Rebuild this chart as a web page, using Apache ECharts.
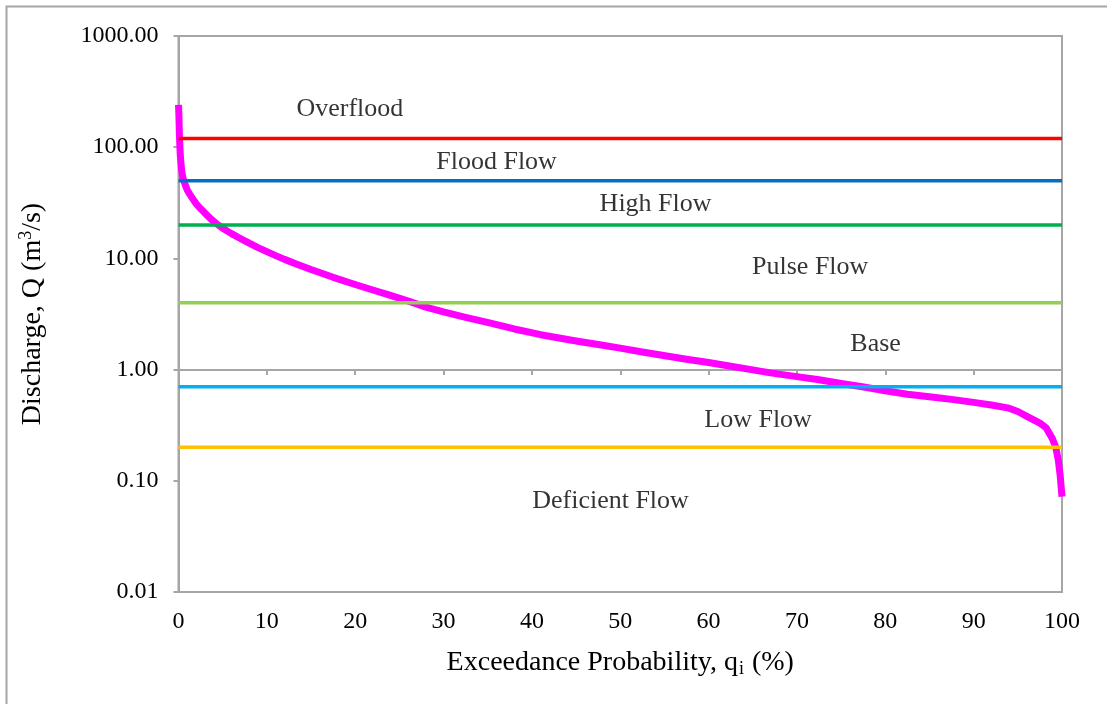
<!DOCTYPE html>
<html>
<head>
<meta charset="utf-8">
<title>Flow duration curve</title>
<script src="https://cdn.jsdelivr.net/npm/echarts@6/dist/echarts.min.js"></script>
<style>
  html, body { margin: 0; padding: 0; background: #fff; }
  #chart { width: 1107px; height: 704px; }
</style>
</head>
<body>
<div id="chart"></div>
<script>
// Exceedance probability (%) and discharge (m3/s) along the flow duration curve
const exceedance = [0, 0.05, 0.1, 0.2, 0.35, 0.5, 0.8, 1.0, 1.3, 1.6, 2, 2.4, 2.8, 3.2, 3.7, 4.3, 5, 6, 7, 8, 9, 10, 11, 12,
  13.4, 15, 17.5, 20, 22, 23.9, 26.2, 28, 30, 32.5, 35.2, 38, 41, 45, 47.5, 50, 52.5, 55.6, 57.5, 60, 62, 64.5, 67, 70,
  72.5, 75, 77.4, 80, 82.5, 85, 87.5, 89.8, 92, 94, 95, 96.3, 97.5, 98.2, 98.9, 99.3, 99.6, 99.8, 100];
const discharge = [240, 190, 130, 85, 62, 53, 45, 41, 37.5, 34.5, 31, 28.5, 26.5, 24.6, 22.5, 20.5, 18.7, 16.7, 15.1, 13.7, 12.5, 11.5, 10.6, 9.8,
  8.87, 7.94, 6.76, 5.83, 5.2, 4.67, 4.08, 3.65, 3.3, 2.95, 2.63, 2.32, 2.06, 1.81, 1.68, 1.56, 1.44, 1.31, 1.24, 1.16, 1.09, 1.01, 0.935, 0.865,
  0.81, 0.75, 0.70, 0.645, 0.60, 0.57, 0.54, 0.51, 0.48, 0.45, 0.42, 0.37, 0.33, 0.30, 0.24, 0.20, 0.15, 0.11, 0.072];

// Flow regime thresholds (m3/s)
const thresholdNames = ['Overflood', 'Flood Flow', 'High Flow', 'Pulse Flow', 'Low Flow', 'Deficient Flow'];
const thresholdValues = [120, 50, 20, 4, 0.7, 0.2];
const thresholdColors = ['#FF0000', '#0070C0', '#00B050', '#92D050', '#00B0F0', '#FFC000'];

// Zone names with their anchor point [exceedance %, discharge]
const zoneNames = ['Overflood', 'Flood Flow', 'High Flow', 'Pulse Flow', 'Base', 'Low Flow', 'Deficient Flow'];
const zoneAnchors = [[19.4, 218], [36, 74], [54, 30.5], [71.5, 8.4], [78.9, 1.71], [65.6, 0.348], [48.9, 0.065]];

const xTicks = [0, 10, 20, 30, 40, 50, 60, 70, 80, 90, 100];

const FONT = '"Liberation Serif", "Times New Roman", serif';
const GRAY = '#A6A6A6';

const chart = echarts.init(document.getElementById('chart'), null, { renderer: 'canvas' });

const curveData = exceedance.map((p, i) => [p, discharge[i]]);

const thresholdSeries = thresholdValues.map((v, i) => ({
  name: thresholdNames[i],
  type: 'line',
  data: [[xTicks[0], v], [xTicks[xTicks.length - 1], v]],
  symbol: 'none',
  lineStyle: { color: thresholdColors[i], width: 3.5 },
  z: 3,
  silent: true
}));

chart.setOption({
  animation: false,
  backgroundColor: '#fff',
  graphic: [{
    type: 'rect',
    shape: { x: 6.5, y: 6.5, width: 1300, height: 900 },
    style: { fill: 'none', stroke: GRAY, lineWidth: 2 },
    silent: true
  }],
  grid: {
    left: 178.5, top: 36, right: 45, bottom: 112,
    show: true, borderColor: GRAY, borderWidth: 2, backgroundColor: 'transparent'
  },
  xAxis: [{
    type: 'value',
    min: xTicks[0], max: xTicks[xTicks.length - 1], interval: 10,
    position: 'bottom',
    axisLine: { show: true, lineStyle: { color: GRAY, width: 2 } },
    axisTick: { show: false },
    splitLine: { show: false },
    axisLabel: { color: '#000', fontFamily: FONT, fontSize: 24, margin: 18 },
    name: '{t|Exceedance Probability, q}{s|i}{t| (%)}',
    nameLocation: 'middle',
    nameGap: 56,
    nameTextStyle: {
      rich: {
        t: { fontFamily: FONT, fontSize: 28, color: '#000' },
        s: { fontFamily: FONT, fontSize: 18, color: '#000', padding: [12, 1, 0, 1] }
      }
    }
  }, {
    // axis line crossing at Q = 1 with downward ticks
    type: 'value',
    min: xTicks[0], max: xTicks[xTicks.length - 1], interval: 10,
    position: 'bottom',
    offset: -222,
    axisLine: { show: true, lineStyle: { color: GRAY, width: 2 } },
    axisTick: { show: true, length: 5, lineStyle: { color: GRAY, width: 2 } },
    axisLabel: { show: false },
    splitLine: { show: false }
  }],
  yAxis: {
    type: 'log',
    logBase: 10,
    min: 0.01, max: 1000,
    axisLine: { show: true, lineStyle: { color: GRAY, width: 2 } },
    axisTick: { show: true, length: 5, lineStyle: { color: GRAY, width: 2 } },
    splitLine: { show: false },
    axisLabel: {
      color: '#000', fontFamily: FONT, fontSize: 24, margin: 20,
      formatter: v => Number(v).toFixed(2)
    },
    name: '{t|Discharge, Q (m}{s|3}{t|/s)}',
    nameLocation: 'middle',
    nameRotate: 90,
    nameGap: 131,
    nameTextStyle: {
      rich: {
        t: { fontFamily: FONT, fontSize: 28, color: '#000' },
        s: { fontFamily: FONT, fontSize: 18, color: '#000', padding: [0, 0, 12, 0] }
      }
    }
  },
  series: [{
    name: 'Flow duration curve',
    type: 'line',
    data: curveData,
    symbol: 'none',
    smooth: false,
    lineStyle: { color: '#FF00FF', width: 7, join: 'round', cap: 'butt' },
    z: 2,
    silent: true
  }].concat(thresholdSeries).concat([{
    name: 'Zones',
    type: 'scatter',
    xAxisIndex: 0,
    data: zoneAnchors.map((a, i) => ({ value: a, name: zoneNames[i] })),
    symbolSize: 0,
    label: {
      show: true,
      position: 'inside',
      formatter: p => p.name,
      color: '#000',
      fontFamily: FONT,
      fontSize: 26
    },
    z: 4,
    silent: true
  }])
});
</script>
</body>
</html>
